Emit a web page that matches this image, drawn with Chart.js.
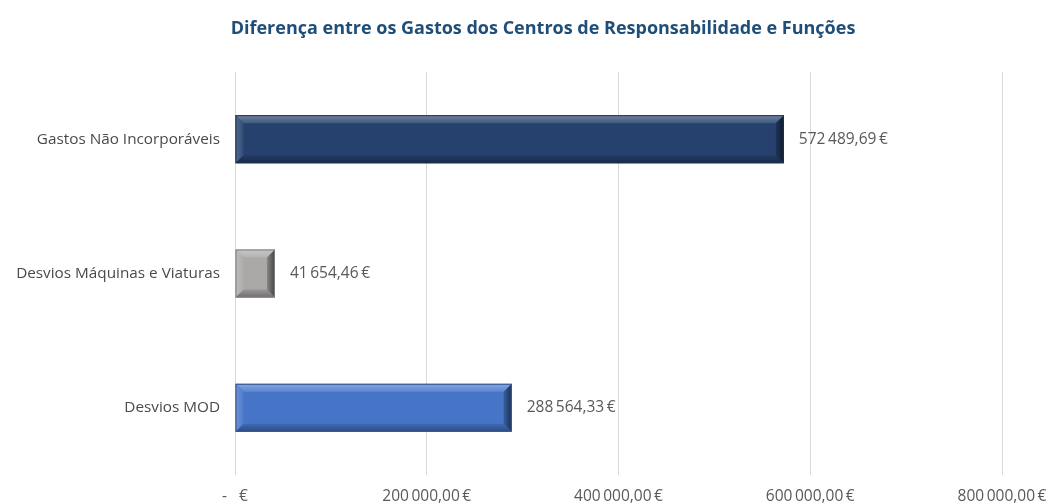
<!DOCTYPE html>
<html>
<head>
<meta charset="utf-8">
<script src="https://cdn.jsdelivr.net/npm/chart.js@4"></script>
<style>
  html, body { margin: 0; padding: 0; background: #ffffff; }
  #wrap { width: 1053px; height: 504px; position: relative; }
</style>
</head>
<body>
<div id="wrap"><canvas id="chart" width="1053" height="504"></canvas></div>
<script>
// Categories (top to bottom) and their amounts in euros
const categories = ['Gastos Não Incorporáveis', 'Desvios Máquinas e Viaturas', 'Desvios MOD'];
const values = [572489.69, 41654.46, 288564.33];
const barColors = ['#26416E', '#ABA8A8', '#4675C8'];
const xTicks = [0, 200000, 400000, 600000, 800000];
const chartTitle = 'Diferença entre os Gastos dos Centros de Responsabilidade e Funções';

const FONT = '"Open Sans", "Noto Sans", sans-serif';

// Portuguese currency format: "572 489,69 €", zero shown as "-  €"
function euro(v) {
  if (v === 0) return '-   €';
  const parts = v.toFixed(2).split('.');
  const intPart = parts[0].replace(/\B(?=(\d{3})+(?!\d))/g, '\u2009');
  return intPart + ',' + parts[1] + '\u2009€';
}

function shade(hex, amt) {
  const n = parseInt(hex.slice(1), 16);
  let r = (n >> 16) & 255, g = (n >> 8) & 255, b = n & 255;
  const f = c => Math.max(0, Math.min(255, Math.round(amt >= 0 ? c + (255 - c) * amt : c * (1 + amt))));
  return 'rgb(' + f(r) + ',' + f(g) + ',' + f(b) + ')';
}

// Bevelled edges on each bar
const bevelPlugin = {
  id: 'bevel',
  afterDatasetsDraw(chart) {
    const ctx = chart.ctx;
    const meta = chart.getDatasetMeta(0);
    meta.data.forEach((bar, i) => {
      const base = barColors[i];
      const x0 = bar.base, x1 = bar.x;
      const y0 = bar.y - bar.height / 2, y1 = bar.y + bar.height / 2;
      const b = Math.min(8, (x1 - x0) / 4, (y1 - y0) / 4);
      ctx.save();
      // top edge (light, fading)
      let g = ctx.createLinearGradient(0, y0, 0, y0 + b);
      g.addColorStop(0, shade(base, 0.35));
      g.addColorStop(1, shade(base, 0.12));
      ctx.fillStyle = g;
      ctx.beginPath();
      ctx.moveTo(x0, y0); ctx.lineTo(x1, y0); ctx.lineTo(x1 - b, y0 + b); ctx.lineTo(x0 + b, y0 + b); ctx.closePath(); ctx.fill();
      // left edge (light)
      g = ctx.createLinearGradient(x0, 0, x0 + b, 0);
      g.addColorStop(0, shade(base, 0.22));
      g.addColorStop(1, shade(base, 0.05));
      ctx.fillStyle = g;
      ctx.beginPath();
      ctx.moveTo(x0, y0); ctx.lineTo(x0 + b, y0 + b); ctx.lineTo(x0 + b, y1 - b); ctx.lineTo(x0, y1); ctx.closePath(); ctx.fill();
      // bottom edge (dark)
      g = ctx.createLinearGradient(0, y1 - b, 0, y1);
      g.addColorStop(0, shade(base, -0.1));
      g.addColorStop(1, shade(base, -0.35));
      ctx.fillStyle = g;
      ctx.beginPath();
      ctx.moveTo(x0, y1); ctx.lineTo(x0 + b, y1 - b); ctx.lineTo(x1 - b, y1 - b); ctx.lineTo(x1, y1); ctx.closePath(); ctx.fill();
      // right edge (darkest)
      g = ctx.createLinearGradient(x1 - b, 0, x1, 0);
      g.addColorStop(0, shade(base, -0.2));
      g.addColorStop(1, shade(base, -0.6));
      ctx.fillStyle = g;
      ctx.beginPath();
      ctx.moveTo(x1, y0); ctx.lineTo(x1, y1); ctx.lineTo(x1 - b, y1 - b); ctx.lineTo(x1 - b, y0 + b); ctx.closePath(); ctx.fill();
      // thin outline
      ctx.strokeStyle = shade(base, -0.25);
      ctx.lineWidth = 1;
      ctx.strokeRect(x0 + 0.5, y0 + 0.5, x1 - x0 - 1, y1 - y0 - 1);
      ctx.restore();
    });
  }
};

// Value labels after each bar
const valueLabelPlugin = {
  id: 'valueLabels',
  afterDatasetsDraw(chart) {
    const ctx = chart.ctx;
    const meta = chart.getDatasetMeta(0);
    ctx.save();
    ctx.font = '15.5px ' + FONT;
    ctx.fillStyle = '#595959';
    ctx.textAlign = 'left';
    ctx.textBaseline = 'middle';
    meta.data.forEach((bar, i) => {
      ctx.fillText(euro(values[i]), bar.x + 15, bar.y);
    });
    ctx.restore();
  }
};

// Heading centred over the plot
const headingPlugin = {
  id: 'heading',
  afterDraw(chart) {
    const ctx = chart.ctx;
    ctx.save();
    ctx.font = 'bold 18px ' + FONT;
    ctx.fillStyle = '#1F4E79';
    ctx.textAlign = 'center';
    ctx.textBaseline = 'middle';
    ctx.fillText(chartTitle, 543, 29);
    ctx.restore();
  }
};

new Chart(document.getElementById('chart'), {
  type: 'bar',
  data: {
    labels: categories,
    datasets: [{
      data: values,
      backgroundColor: barColors,
      borderWidth: 0,
      barPercentage: 0.357,
      categoryPercentage: 1
    }]
  },
  options: {
    indexAxis: 'y',
    responsive: false,
    animation: false,
    layout: { padding: { top: 72, right: 51, left: 0, bottom: 0 } },
    plugins: {
      legend: { display: false },
      title: { display: false },
      tooltip: { enabled: false }
    },
    scales: {
      x: {
        min: 0,
        max: 800000,
        afterBuildTicks(axis) { axis.ticks = xTicks.map(v => ({ value: v })); },
        afterFit(axis) {
          axis.height = 29;
          axis.paddingLeft = 0;
          axis.paddingRight = 0;
        },
        grid: { color: '#D9D9D9', lineWidth: 1, drawTicks: false },
        border: { display: false },
        ticks: {
          padding: 12,
          color: '#595959',
          font: { family: FONT, size: 15.5 },
          maxRotation: 0,
          callback: v => euro(v)
        }
      },
      y: {
        afterFit(axis) { axis.width = 235; },
        grid: { display: false, drawTicks: false },
        border: { display: false },
        ticks: {
          padding: 15,
          color: '#4A4A4A',
          font: { family: FONT, size: 15.3 }
        }
      }
    }
  },
  plugins: [bevelPlugin, valueLabelPlugin, headingPlugin]
});
</script>
</body>
</html>
